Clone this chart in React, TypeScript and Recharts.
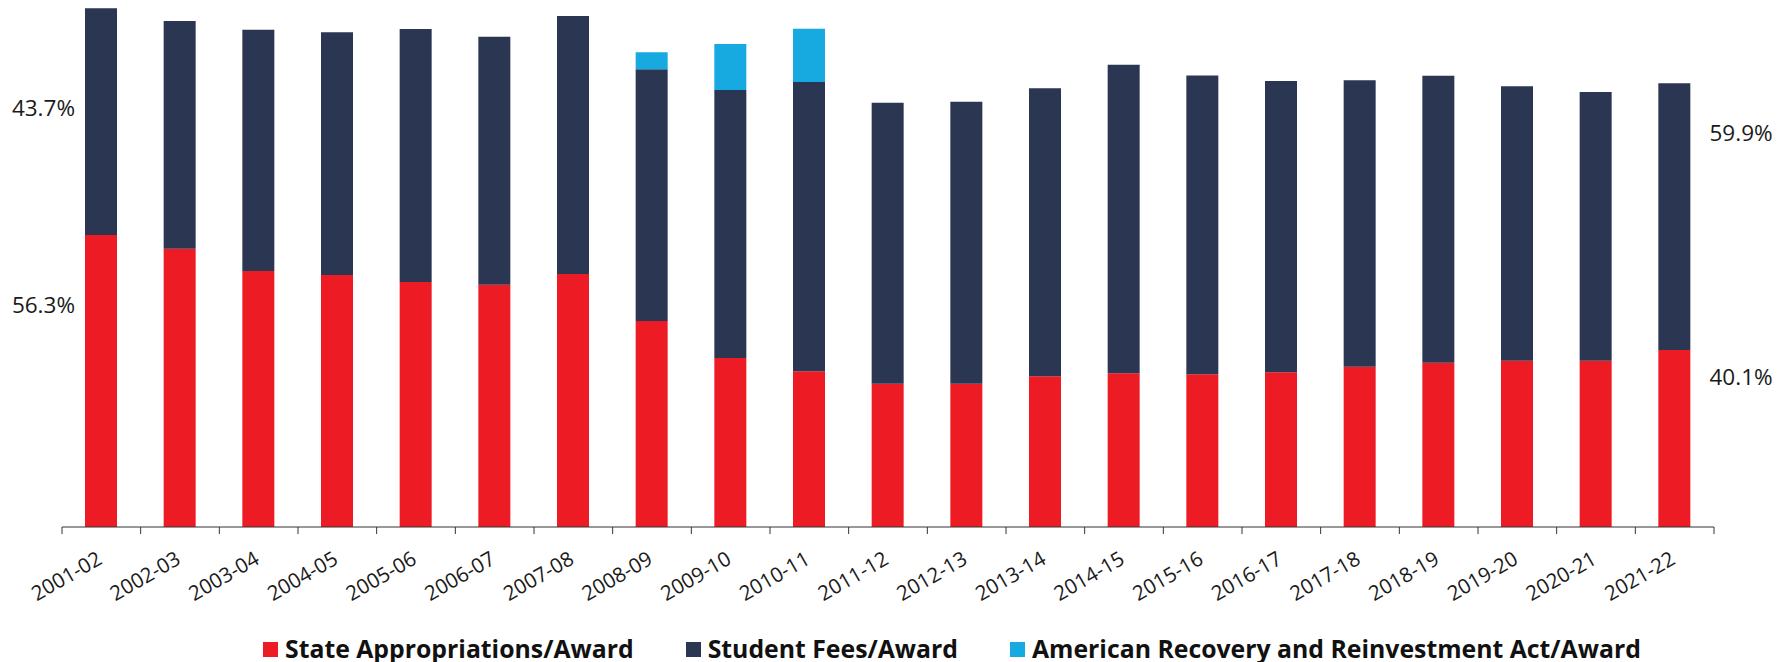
import React from 'react';
import { BarChart, Bar, XAxis, YAxis } from 'recharts';

const categories = ['2001-02', '2002-03', '2003-04', '2004-05', '2005-06', '2006-07', '2007-08', '2008-09', '2009-10', '2010-11', '2011-12', '2012-13', '2013-14', '2014-15', '2015-16', '2016-17', '2017-18', '2018-19', '2019-20', '2020-21', '2021-22'];
const stateAppropriations = [7300, 6958, 6400, 6300, 6125, 6058, 6325, 5150, 4225, 3893, 3583, 3583, 3768, 3843, 3818, 3868, 4008, 4108, 4158, 4158, 4425];
const studentFees = [5668, 5693, 6033, 6068, 6325, 6200, 6450, 6293, 6700, 7233, 7025, 7050, 7200, 7715, 7470, 7283, 7160, 7175, 6860, 6718, 6668];
const arraFunds = [0, 0, 0, 0, 0, 0, 0, 425, 1150, 1333, 0, 0, 0, 0, 0, 0, 0, 0, 0, 0, 0];

const seriesNames = ['State Appropriations/Award', 'Student Fees/Award', 'American Recovery and Reinvestment Act/Award'];
const seriesColors = ['#ED1C24', '#2A3652', '#17AAE1'];

// share annotations (left: first year, right: last year)
const leftShareValues = [10475, 5550];
const leftShareLabels = ['43.7%', '56.3%'];
const rightShareValues = [9850, 3750];
const rightShareLabels = ['59.9%', '40.1%'];

const data = categories.map((c, i) => ({
  year: c,
  state: stateAppropriations[i],
  fees: studentFees[i],
  arra: arraFunds[i],
}));

const W = 1791;
const H = 662;
const LEFT_W = 62;
const RIGHT_W = 77;
const PLOT_W = W - LEFT_W - RIGHT_W;
const BAND = PLOT_W / categories.length;
const FONT = '"Open Sans", sans-serif';

const XTick = (props: any) => {
  const { x, y, payload, index } = props;
  const left = x - BAND / 2;
  const right = x + BAND / 2;
  const tx = x + 2;
  const ty = y + 36;
  return (
    <g>
      <line x1={left} x2={left} y1={y} y2={y + 7} stroke="#333" strokeWidth={1} />
      {index === categories.length - 1 && (
        <line x1={right} x2={right} y1={y} y2={y + 7} stroke="#333" strokeWidth={1} />
      )}
      <text x={tx} y={ty} textAnchor="end" fontSize={20.5} fill="#1a1a1a" fontFamily={FONT} transform={`rotate(-30 ${tx} ${ty})`}>
        {payload.value}
      </text>
    </g>
  );
};

const makeShareTick = (values: number[], labels: string[], side: 'left' | 'right') => (props: any) => {
  const { x, y, payload } = props;
  const i = values.indexOf(payload.value);
  const label = i >= 0 ? labels[i] : '';
  const tx = side === 'left' ? x + 13 : x - 4.5;
  return (
    <text x={tx} y={y} dy="0.36em" textAnchor={side === 'left' ? 'end' : 'start'} fontSize={22.5} fill="#1a1a1a" fontFamily={FONT}>
      {label}
    </text>
  );
};

const LegendBox = () => (
  <div style={{ position: 'absolute', left: 263, top: 634, display: 'flex', alignItems: 'center', fontFamily: FONT, fontWeight: 700, fontSize: 24.8, color: '#111', whiteSpace: 'nowrap', lineHeight: '28px' }}>
    {seriesNames.map((n, i) => (
      <div key={n} style={{ display: 'flex', alignItems: 'center', marginRight: i < seriesNames.length - 1 ? 52 : 0 }}>
        <span style={{ display: 'inline-block', width: 15, height: 15, background: seriesColors[i], marginRight: 7, marginTop: 3 }} />
        <span>{n}</span>
      </div>
    ))}
  </div>
);

export default function App() {
  return (
    <div style={{ position: 'absolute', left: 0, top: 0, width: W, height: H, background: '#fff' }}>
      <BarChart width={W} height={H} data={data} margin={{ top: 7, right: 0, bottom: 75, left: 0 }} barSize={32}>
        <XAxis dataKey="year" xAxisId={0} height={60} tickLine={false} tickSize={0} tickMargin={0} axisLine={{ stroke: '#333', strokeWidth: 1 }} tick={<XTick />} interval={0} />
        <YAxis yAxisId="l" orientation="left" width={LEFT_W} domain={[0, 13000]} ticks={leftShareValues} axisLine={false} tickLine={false} tickSize={0} tickMargin={0} tick={makeShareTick(leftShareValues, leftShareLabels, 'left')} allowDataOverflow />
        <YAxis yAxisId="r" orientation="right" width={RIGHT_W} domain={[0, 13000]} ticks={rightShareValues} axisLine={false} tickLine={false} tickSize={0} tickMargin={0} tick={makeShareTick(rightShareValues, rightShareLabels, 'right')} allowDataOverflow />
        <Bar dataKey="state" stackId="a" yAxisId="l" fill={seriesColors[0]} isAnimationActive={false} />
        <Bar dataKey="fees" stackId="a" yAxisId="l" fill={seriesColors[1]} isAnimationActive={false} />
        <Bar dataKey="arra" stackId="a" yAxisId="l" fill={seriesColors[2]} isAnimationActive={false} />
      </BarChart>
      <LegendBox />
    </div>
  );
}
